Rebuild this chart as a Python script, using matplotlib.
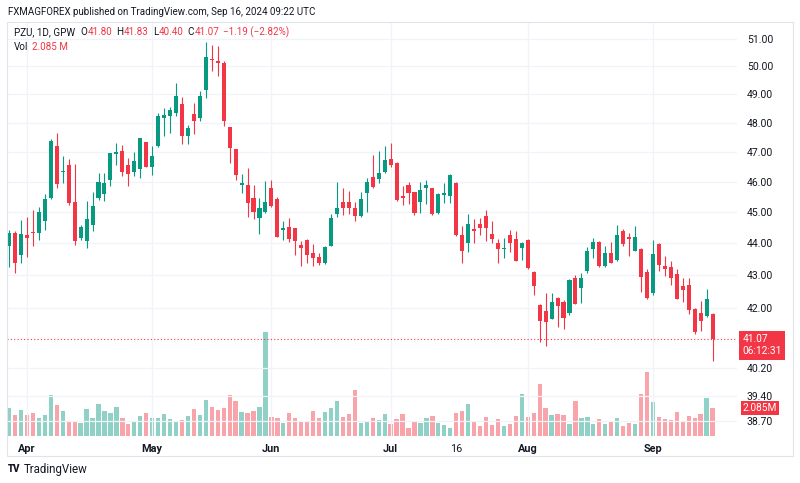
import matplotlib
matplotlib.use("Agg")
import matplotlib.pyplot as plt
import matplotlib.ticker as mticker
import matplotlib.transforms as mtransforms
from matplotlib.patches import Rectangle
import numpy as np
import pandas as pd

plt.rcParams["font.family"] = ["Roboto", "DejaVu Sans"]

GREEN = "#089981"
RED = "#F23645"
TEXT = "#131722"
GRID = "#F0F3FA"

# GPW trading days (Polish holidays removed)
holidays = ["2024-03-29", "2024-04-01", "2024-05-01", "2024-05-03", "2024-05-30", "2024-08-15"]
dates = pd.bdate_range("2024-03-26", "2024-09-16")
dates = dates[~dates.isin(pd.to_datetime(holidays))]

opens = [43.91, 44.32, 43.63, 44.26, 44.34, 44.32, 44.73, 45.45, 47.22, 46.32,
         46.57, 45.33, 44.18, 44.06, 44.60, 45.45, 45.58, 46.06, 46.93, 47.04,
         46.55, 46.34, 46.42, 47.33, 46.51, 47.21, 48.16, 48.24, 48.34, 48.65,
         47.53, 48.31, 48.16, 49.16, 50.26, 50.18, 50.12, 47.86, 47.10, 45.90,
         45.90, 45.45, 44.80, 45.01, 45.80, 45.42, 44.43, 44.52, 44.48, 43.95,
         44.10, 43.70, 43.57, 43.39, 43.92, 44.93, 45.34, 45.34, 45.15, 44.87,
         45.62, 46.17, 46.08, 46.34, 46.77, 46.63, 45.52, 45.88, 45.66, 45.34,
         45.78, 45.78, 44.98, 45.56, 45.53, 45.97, 44.26, 44.02, 44.47, 44.63,
         44.87, 44.29, 44.02, 43.82, 44.25, 44.15, 43.84, 44.10, 43.10, 42.09,
         41.89, 41.66, 42.30, 42.17, 41.84, 42.91, 42.59, 43.13, 43.82, 44.05,
         43.27, 43.68, 43.48, 44.39, 44.20, 43.74, 43.83, 43.11, 42.44, 43.97,
         43.29, 43.24, 43.03, 42.65, 42.69, 41.97, 41.84, 41.74, 41.80]
highs = [44.44, 44.39, 44.74, 44.83, 45.06, 45.18, 45.60, 47.44, 47.66, 46.87,
         46.76, 46.60, 44.60, 45.37, 45.66, 46.29, 46.29, 46.98, 47.30, 47.24,
         46.80, 47.00, 47.47, 47.35, 47.21, 48.36, 48.52, 48.55, 49.40, 48.92,
         47.93, 48.71, 49.12, 50.90, 50.78, 50.76, 50.20, 47.87, 47.10, 46.27,
         46.45, 45.89, 45.45, 46.04, 46.06, 45.50, 44.72, 44.80, 44.50, 44.07,
         44.15, 43.97, 43.70, 43.92, 44.93, 46.00, 45.78, 45.68, 45.34, 45.66,
         46.12, 46.90, 47.04, 47.21, 47.32, 46.65, 45.87, 45.98, 45.67, 45.98,
         46.06, 45.80, 45.62, 45.95, 46.25, 46.00, 44.56, 44.93, 44.78, 44.80,
         45.07, 44.73, 44.15, 44.18, 44.43, 44.39, 44.03, 44.15, 43.13, 42.12,
         42.44, 42.46, 42.33, 42.23, 42.87, 43.00, 43.08, 43.87, 44.18, 44.07,
         43.92, 44.04, 44.58, 44.47, 44.32, 44.56, 43.85, 43.19, 44.10, 44.00,
         43.60, 43.45, 43.19, 42.90, 42.90, 41.98, 42.20, 42.58, 41.83]
lows = [43.24, 43.08, 43.39, 43.56, 43.91, 44.10, 44.44, 45.43, 45.79, 45.95,
        45.25, 43.94, 44.10, 43.84, 44.39, 45.40, 45.38, 45.87, 46.57, 46.20,
        45.86, 46.18, 46.12, 46.50, 46.23, 47.18, 47.55, 47.64, 48.24, 47.26,
        47.27, 47.61, 48.08, 48.87, 49.84, 49.66, 47.88, 46.63, 46.06, 45.62,
        44.85, 44.77, 44.31, 44.98, 45.18, 44.20, 44.10, 44.03, 43.63, 43.29,
        43.39, 43.29, 43.32, 43.34, 43.90, 44.85, 44.90, 44.94, 44.70, 44.85,
        45.00, 45.78, 45.97, 46.30, 46.51, 45.37, 45.23, 45.27, 44.90, 44.98,
        45.27, 44.90, 44.95, 45.29, 45.31, 44.22, 43.37, 43.71, 44.02, 44.25,
        44.07, 44.02, 43.39, 43.52, 43.73, 43.44, 43.48, 43.18, 42.38, 40.96,
        40.86, 41.65, 41.43, 41.37, 41.79, 42.10, 42.15, 43.08, 43.52, 43.24,
        43.24, 43.38, 43.45, 43.90, 43.59, 43.74, 42.48, 42.25, 42.40, 43.13,
        42.96, 42.68, 42.25, 42.17, 41.80, 41.20, 41.30, 41.72, 40.40]
closes = [44.32, 43.39, 44.29, 44.16, 44.32, 45.00, 45.43, 47.36, 45.93, 46.36,
          45.29, 44.06, 44.52, 44.78, 45.20, 45.99, 45.95, 46.96, 47.00, 46.34,
          46.27, 46.71, 47.47, 46.51, 46.85, 48.24, 48.28, 48.45, 48.95, 47.53,
          47.84, 48.08, 48.95, 50.33, 50.22, 50.12, 48.05, 47.13, 46.23, 45.97,
          45.30, 44.99, 45.14, 45.34, 45.20, 44.21, 44.50, 44.15, 44.07, 43.84,
          43.63, 43.55, 43.39, 43.89, 44.80, 45.15, 45.15, 45.15, 44.87, 45.42,
          46.00, 45.84, 46.30, 46.74, 46.57, 45.40, 45.48, 45.64, 44.96, 45.73,
          45.89, 44.94, 45.59, 45.64, 46.23, 44.26, 43.74, 44.63, 44.38, 44.50,
          44.50, 44.13, 43.81, 43.86, 44.02, 43.45, 44.02, 43.21, 42.65, 41.59,
          41.56, 42.16, 42.04, 41.69, 42.85, 42.12, 42.90, 43.77, 44.05, 43.27,
          43.70, 43.39, 44.28, 43.97, 44.13, 44.21, 42.95, 42.30, 43.65, 43.31,
          43.19, 42.90, 42.27, 42.55, 41.92, 41.27, 41.59, 42.27, 41.07]
volumes = [2.08, 1.54, 1.94, 1.54, 1.71, 1.34, 1.59, 3.05, 2.31, 1.86,
           1.12, 1.02, 0.94, 2.01, 1.34, 2.38, 1.86, 1.71, 2.18, 1.34,
           0.92, 1.12, 1.46, 1.69, 1.34, 1.34, 1.66, 1.24, 1.04, 1.17,
           1.49, 1.98, 1.54, 2.65, 2.16, 1.96, 2.11, 3.05, 2.58, 1.79,
           1.71, 1.89, 2.16, 7.74, 1.44, 1.34, 0.97, 1.69, 1.36, 1.04,
           1.09, 1.86, 1.34, 1.81, 2.08, 2.58, 1.41, 1.64, 3.42, 0.99,
           1.07, 1.31, 1.19, 1.61, 0.92, 1.24, 1.61, 0.57, 1.09, 0.94,
           1.31, 1.49, 0.97, 0.82, 0.62, 1.74, 1.86, 2.38, 1.04, 0.77,
           1.41, 0.82, 1.24, 0.74, 0.92, 1.49, 3.10, 1.39, 1.71, 3.89,
           2.08, 1.56, 1.64, 1.56, 0.89, 2.58, 1.31, 1.44, 0.87, 1.24,
           0.87, 1.09, 1.31, 0.72, 0.97, 0.89, 3.13, 4.76, 2.53, 1.41,
           1.29, 1.17, 1.76, 1.07, 1.51, 1.36, 1.61, 2.80, 2.085]

tick_dates = ["2024-04-02", "2024-05-02", "2024-06-03", "2024-07-01",
              "2024-07-16", "2024-08-01", "2024-09-02"]
tick_labels = ["Apr", "May", "Jun", "Jul", "16", "Aug", "Sep"]
price_ticks = [38.70, 39.40, 40.20, 42, 43, 44, 45, 46, 47, 48, 49, 50, 51]

W, H = 800, 483


def px(x, y):
    return x / W, 1 - y / H


o = np.array(opens)
h = np.array(highs)
l = np.array(lows)
c = np.array(closes)
v = np.array(volumes)
x = np.arange(len(dates))
up = c >= o
colors = np.where(up, GREEN, RED)

fig = plt.figure(figsize=(W / 100, H / 100), dpi=100)
fig.patch.set_facecolor("white")

# outer frame of the widget
fig.patches.append(Rectangle(px(7, 456), 786 / W, 434 / H, transform=fig.transFigure,
                             fill=False, edgecolor="#E0E3EB", lw=0.8))

ax = fig.add_axes([7 / W, 1 - 436 / H, 730 / W, 414 / H])
axv = ax.twinx()
ax.set_zorder(axv.get_zorder() + 1)
ax.patch.set_visible(False)

# volume
axv.bar(x, v, width=0.72, color=colors, alpha=0.45, linewidth=0)
axv.set_ylim(0, 30.8)
axv.set_yticks([])
for s in axv.spines.values():
    s.set_visible(False)

# candles
ax.set_yscale("log")
ax.vlines(x, l, h, colors=colors, lw=0.8, zorder=3)
ax.bar(x, np.maximum(np.abs(c - o), 0.03), bottom=np.minimum(o, c), width=0.68,
       color=colors, linewidth=0, zorder=4)

ax.set_xlim(-0.35, 122.1)
ax.set_ylim(38.28, 51.63)

# grid
for p in price_ticks:
    ax.axhline(p, color=GRID, lw=0.9, zorder=0)
tick_x = dates.get_indexer(pd.to_datetime(tick_dates))
for tx, lab in zip(tick_x, tick_labels):
    if lab != "16":
        ax.axvline(tx, color=GRID, lw=0.9, zorder=0)

ax.yaxis.tick_right()
ax.yaxis.set_major_locator(mticker.FixedLocator(price_ticks))
ax.yaxis.set_minor_locator(mticker.NullLocator())
ax.yaxis.set_major_formatter(mticker.FuncFormatter(lambda val, pos: f"{val:.2f}"))
ax.tick_params(axis="y", length=0, pad=7, labelsize=7.5, labelcolor=TEXT)
ax.set_xticks(tick_x)
ax.set_xticklabels(tick_labels)
ax.tick_params(axis="x", length=0, pad=6, labelsize=7.8, labelcolor=TEXT)
for t in ax.get_xticklabels():
    t.set_fontweight("normal" if t.get_text() == "16" else "bold")
for s in ax.spines.values():
    s.set_visible(False)

# last price line and labels
ax.axhline(c[-1], color=RED, lw=0.8, linestyle=(0, (1, 2)), zorder=2)
trans = mtransforms.blended_transform_factory(ax.transAxes, ax.transData)
ax.annotate(f"{c[-1]:.2f}\n06:12:31", xy=(1.0, c[-1]), xycoords=trans,
            xytext=(4, 3), textcoords="offset points", ha="left", va="top",
            color="white", fontsize=7.3, linespacing=1.25,
            bbox=dict(boxstyle="square,pad=0.35", fc=RED, ec="none"))
transv = mtransforms.blended_transform_factory(axv.transAxes, axv.transData)
axv.annotate(f"{v[-1]:.3f}M", xy=(1.0, v[-1]), xycoords=transv,
             xytext=(4, 0), textcoords="offset points", ha="left", va="center",
             color="white", fontsize=7.3,
             bbox=dict(boxstyle="square,pad=0.2", fc=RED, ec="none"))

# header
fig.text(*px(8, 12), "FXMAGFOREX published on TradingView.com, Sep 16, 2024 09:22 UTC",
         fontsize=7.0, color=TEXT, va="center")

# legend pieces laid out left to right
renderer = fig.canvas.get_renderer()
legend = [("PZU, 1D, GPW", TEXT, 5), ("O", TEXT, 0.5), ("41.80", RED, 4),
          ("H", TEXT, 0.5), ("41.83", RED, 4), ("L", TEXT, 0.5), ("40.40", RED, 4),
          ("C", TEXT, 0.5), ("41.07", RED, 4), ("\u22121.19 (\u22122.82%)", RED, 0)]
cur = 14
for txt, col, gap in legend:
    t = fig.text(*px(cur, 32), txt, fontsize=7.1, color=col, va="center")
    cur = t.get_window_extent(renderer).x1 + gap
fig.text(*px(14, 47), "Vol", fontsize=7.1, color=TEXT, va="center")
fig.text(*px(32, 47), "2.085 M", fontsize=7.1, color=RED, va="center")

# footer logo
fig.text(*px(8, 469), "TV", fontsize=7, fontweight="heavy", color=TEXT, va="center")
fig.text(*px(24, 469), "TradingView", fontsize=8.3, color=TEXT, va="center")

fig.savefig("out.png", dpi=100)
